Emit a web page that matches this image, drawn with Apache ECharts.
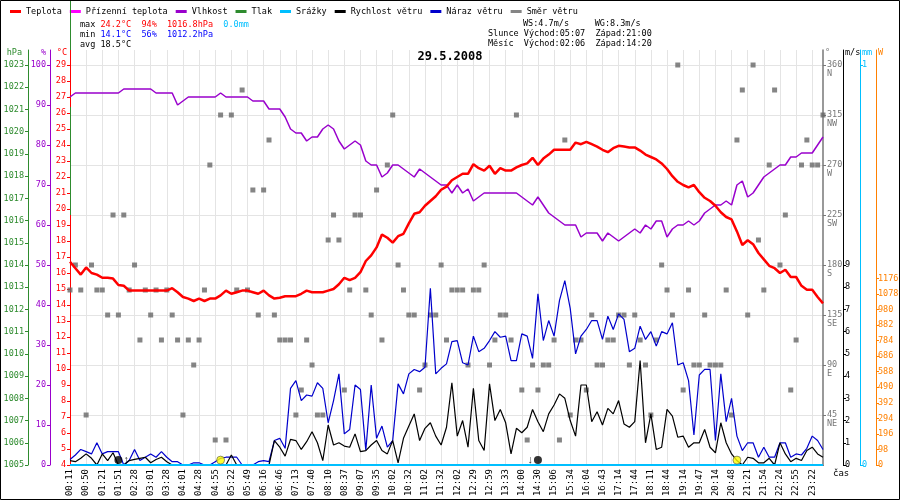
<!DOCTYPE html>
<html>
<head>
<meta charset="utf-8">
<script src="https://cdn.jsdelivr.net/npm/echarts@6/dist/echarts.min.js"></script>
<style>
html, body { margin: 0; padding: 0; background: #fff; }
#chart { width: 900px; height: 500px; }
</style>
</head>
<body>
<div id="chart"></div>
<script>
// popisky casove osy (kazdy treti vzorek)
const timeLabels = ['00:11','00:50','01:21','01:51','02:28','03:01','03:28','04:01','04:28','04:55',
    '05:22','05:49','06:16','06:46','07:13','07:40','08:10','08:37','09:07','09:35',
    '10:02','10:32','11:02','11:32','12:02','12:29','12:59','13:33','14:00','14:30',
    '15:06','15:34','16:04','16:43','17:14','17:44','18:11','18:44','19:14','19:47',
    '20:14','20:48','21:21','21:54','22:24','22:55','23:22']

// teplota °C
const temperature = [16.7,16.3,15.9,16.35,16.0,15.9,15.7,15.7,15.65,15.25,
    15.2,14.9,14.9,14.9,14.9,14.9,14.9,14.9,14.9,15.05,
    14.8,14.5,14.4,14.25,14.4,14.25,14.4,14.4,14.6,14.9,
    14.7,14.8,14.9,14.9,14.8,14.7,14.9,14.6,14.4,14.45,
    14.55,14.55,14.55,14.7,14.9,14.8,14.8,14.8,14.9,15.0,
    15.3,15.7,15.55,15.7,16.05,16.75,17.1,17.6,18.4,18.2,
    17.9,18.3,18.45,19.1,19.7,19.8,20.2,20.5,20.8,21.2,
    21.4,21.8,22.0,22.2,22.2,22.8,22.55,22.4,22.7,22.2,
    22.55,22.4,22.4,22.6,22.75,22.85,23.2,22.75,23.15,23.4,
    23.7,23.7,23.7,23.7,24.15,24.05,24.2,24.05,23.9,23.7,
    23.55,23.8,23.95,23.9,23.85,23.85,23.65,23.4,23.25,23.1,
    22.85,22.5,22.05,21.7,21.5,21.35,21.5,21.05,20.7,20.5,
    20.2,19.8,19.5,19.35,18.6,17.75,18.05,17.8,17.25,16.85,
    16.45,16.3,16.0,16.2,15.75,15.75,15.2,14.95,14.95,14.5,
    14.1]

// vlhkost %
const humidity = [92,93,93,93,93,93,93,93,93,93,
    94,94,94,94,94,94,93,93,93,93,
    90,91,92,92,92,92,92,92,93,92,
    92,92,92,92,91,91,91,89,89,89,
    87,84,83,83,81,82,82,84,85,84,
    81,79,80,81,80,76,75,75,72,73,
    75,75,74,73,72,74,73,72,71,70,
    70,68,70,68,69,66,67,68,68,68,
    68,68,68,68,67,66,65,67,65,63,
    62,61,60,60,60,57,58,58,58,56,
    58,57,56,57,58,59,58,60,59,61,
    61,57,59,60,60,61,60,61,63,64,
    65,65,66,65,70,71,67,68,70,72,
    73,74,75,75,77,77,78,78,78,80,
    82]

// rychlost vetru m/s
const windSpeed = [0.2,0.15,0.3,0.5,0.3,0,0.5,0.2,0.55,0,
    0,0.2,0.25,0.3,0.35,0.1,0.25,0.35,0.15,0,
    0,0,0,0,0,0,0,0,0,0,
    0.45,0,0,0,0,0,0,0,1.1,0.8,
    0.4,1.15,1.1,0.7,1.05,1.5,1.0,0.2,1.8,0.9,
    1.0,0.85,0.8,1.4,0.6,0.65,0.9,1.1,0.65,0.5,
    1.1,0.1,1.2,1.75,2.3,1.1,1.65,1.9,1.3,0.9,
    1.7,3.7,1.3,2.0,0.8,3.45,1.1,0.65,3.65,2.0,
    2.5,1.9,0.5,1.65,1.45,1.7,2.5,1.95,1.5,2.3,
    2.7,3.2,3.0,2.0,1.3,3.6,3.6,1.95,2.4,1.8,
    2.55,2.3,2.9,1.85,1.7,1.95,4.7,1.0,2.3,0.7,
    0.8,2.5,2.2,1.25,1.3,0.8,1.0,1.0,1.6,0.8,
    0.55,1.9,1.0,0.5,0.2,0,0.35,0.3,0.1,0.1,
    0.3,0,1.0,0.5,0.15,0.3,0.2,0.65,0.8,0.5,
    0.35]

// naraz vetru m/s
const windGust = [0.25,0.45,0.7,0.6,0.5,1.0,0.5,0.6,0.6,0.6,
    0,0.2,0.7,0.2,0.35,0.5,0.35,0.6,0.35,0.15,
    0.15,0,0,0.1,0.1,0,0,0.15,0.3,0.35,
    0.35,0.35,0,0,0,0.15,0.2,0.15,1.1,1.2,
    0.75,3.45,3.8,2.9,3.15,3.1,3.7,3.45,1.9,2.9,
    4.1,1.4,1.6,3.6,3.4,0.65,3.6,1.2,1.75,0.8,
    1.1,3.65,3.2,4.1,4.3,4.2,4.4,7.95,4.1,4.35,
    4.55,5.55,5.6,4.6,4.5,5.8,5.1,5.25,5.6,6.0,
    5.75,5.8,4.7,4.7,5.9,5.8,4.8,7.7,5.6,6.5,
    5.8,7.4,8.3,7.05,5.0,5.8,6.1,6.5,6.5,5.65,
    6.7,6.1,6.8,6.55,5.1,5.25,6.25,5.65,6.0,5.35,
    6.0,5.9,6.4,4.5,4.6,3.8,1.35,4.05,4.3,4.3,
    1.1,4.1,1.95,3.0,1.3,0.65,1.0,1.0,0.35,0.8,
    0.35,0.35,1.0,1.0,0.35,0.5,0.45,0.75,1.3,1.1,
    0.7]

// smer vetru °
const windDir = [157.5,180,157.5,45,180,157.5,157.5,135,225,135,
    225,157.5,180,112.5,157.5,135,157.5,112.5,157.5,135,
    112.5,45,112.5,90,112.5,157.5,270,22.5,315,22.5,
    315,157.5,337.5,157.5,247.5,135,247.5,292.5,135,112.5,
    112.5,112.5,45,67.5,112.5,90,45,45,202.5,225,
    202.5,67.5,157.5,225,225,157.5,135,247.5,112.5,270,
    315,180,157.5,135,135,67.5,90,135,135,180,
    112.5,157.5,157.5,157.5,90,157.5,157.5,180,90,112.5,
    135,135,112.5,315,67.5,22.5,90,67.5,90,90,
    112.5,22.5,292.5,45,112.5,112.5,67.5,135,90,90,
    112.5,112.5,135,135,90,135,112.5,90,45,112.5,
    180,157.5,135,360,67.5,157.5,90,90,135,90,
    90,90,157.5,45,292.5,337.5,135,360,202.5,157.5,
    270,337.5,180,225,67.5,112.5,270,292.5,270,270,
    315]

// srazky mm
const precip = [0,0,0,0,0,0,0,0,0,0, 0,0,0,0,0,0,0,0,0,0,
    0,0,0,0,0,0,0,0,0,0, 0,0,0,0,0,0,0,0,0,0,
    0,0,0,0,0,0,0,0,0,0, 0,0,0,0,0,0,0,0,0,0,
    0,0,0,0,0,0,0,0,0,0, 0,0,0,0,0,0,0,0,0,0,
    0,0,0,0,0,0,0,0,0,0, 0,0,0,0,0,0,0,0,0,0,
    0,0,0,0,0,0,0,0,0,0, 0,0,0,0,0,0,0,0,0,0,
    0,0,0,0,0,0,0,0,0,0, 0,0,0,0,0,0,0,0,0,0,
    0]

const feelsLike = []
const pressure = []

// slunce a mesic (index vzorku)
const astroIdx = [9, 28, 87, 124]
const astroKind = ['moon', 'sun', 'moon', 'sun']
const astroArrow = ['↑', '', '↓', '']

// hodnoty os
const tempTicks = [4,5,6,7,8,9,10,11,12,13,14,15,16,17,18,19,20,21,22,23,24,25,26,27,28,29]
const humTicks = [0,10,20,30,40,50,60,70,80,90,100]
const pressTicks = [1005,1006,1007,1008,1009,1010,1011,1012,1013,1014,1015,1016,1017,1018,1019,1020,1021,1022,1023]
const dirTicks = [45,90,135,180,225,270,315,360]
const dirNames = ['NE','E','SE','S','SW','W','NW','N']
const speedTicks = [0,1,2,3,4,5,6,7,8,9]
const rainTicks = [0,1]
const solarTicks = [0,98,196,294,392,490,588,686,784,882,980,1078,1176]

// souhrn dne
const tempMax = '24.2', humMax = '94', pressMax = '1016.8', rainSum = '0.0'
const tempMin = '14.1', humMin = '56', pressMin = '1012.2'
const tempAvg = '18.5'
const maxWS = '4.7', maxWG = '8.3'
const sunRise = '05:07', sunSet = '21:00', moonRise = '02:06', moonSet = '14:20'

const mono = "'DejaVu Sans Mono', monospace"
const categories = temperature.map((v, i) => i % 3 === 0 ? (timeLabels[i / 3] || '') : '')

function vAxis(o) {
    return {
        type: 'value',
        position: o.pos,
        offset: o.offset,
        min: o.min,
        max: o.max,
        interval: o.interval,
        name: o.name,
        nameLocation: 'end',
        nameGap: -3,
        nameMoveOverlap: false,
        nameTextStyle: {
            color: o.color, fontFamily: mono, fontSize: 8.5,
            align: o.pos === 'left' ? 'right' : 'left',
            verticalAlign: 'middle',
            padding: o.pos === 'left' ? [0, o.pad, 0, 0] : [0, 0, 0, o.pad]
        },
        axisLine: { show: true, onZero: false, lineStyle: { color: o.lineColor || o.color, width: o.lineWidth || 1 } },
        axisTick: { show: true, length: 3, customValues: o.ticks, lineStyle: { color: o.lineColor || o.color } },
        axisLabel: {
            customValues: o.ticks, color: o.color, fontFamily: mono, fontSize: 8.5,
            margin: o.margin || 4, formatter: o.formatter || (v => String(v)), lineHeight: o.lineHeight
        },
        splitLine: o.split ? { show: true, lineStyle: { color: '#e4e4e4', width: 1 } } : { show: false }
    }
}

const chart = echarts.init(document.getElementById('chart'))

const option = {
    backgroundColor: '#fff',
    animation: false,
    title: {
        text: '29.5.2008',
        left: 'center',
        top: 51,
        padding: 0,
        textStyle: { fontFamily: mono, fontSize: 12, fontWeight: 'bold', color: '#000' }
    },
    legend: {
        left: 10,
        top: 7,
        padding: 0,
        icon: 'rect',
        itemWidth: 11,
        itemHeight: 3,
        itemGap: 8,
        textStyle: { fontFamily: mono, fontSize: 8.5, color: '#000' },
        data: ['Teplota', 'Přízenní teplota', 'Vlhkost', 'Tlak', 'Srážky', 'Rychlost větru', 'Náraz větru', 'Směr větru']
    },
    grid: { left: 70, right: 77, top: 50, bottom: 35, containLabel: false, outerBoundsMode: 'none' },
    xAxis: {
        type: 'category',
        data: categories,
        boundaryGap: false,
        name: 'čas',
        nameLocation: 'end',
        nameGap: 10,
        nameMoveOverlap: false,
        nameTextStyle: { fontFamily: mono, fontSize: 9, color: '#000', align: 'left', verticalAlign: 'top', padding: [4, 0, 0, 0] },
        axisLine: { lineStyle: { color: '#000' } },
        axisTick: { show: false },
        axisLabel: { interval: 2, rotate: 90, fontFamily: mono, fontSize: 9, color: '#000', margin: 4 },
        splitLine: { show: true, interval: 2, lineStyle: { color: '#e4e4e4', width: 1 } }
    },
    yAxis: [
        vAxis({ pos: 'left', offset: 0, min: 4, max: 29.9375, interval: 1, name: '°C', color: '#ff0000', pad: 3, ticks: tempTicks }),
        vAxis({ pos: 'left', offset: 20, min: 0, max: 103.75, interval: 10, name: '%', color: '#9900cc', pad: 4, ticks: humTicks }),
        vAxis({ pos: 'left', offset: 42, min: 1005, max: 1023.675, interval: 1, name: 'hPa', color: '#2e8b2e', pad: 6, ticks: pressTicks }),
        vAxis({ pos: 'right', offset: 0, min: 0, max: 373.5, interval: 45, name: '°', color: '#777', lineWidth: 1.5, pad: 2, ticks: dirTicks, split: true,
            lineHeight: 9, formatter: v => '\n' + v + '\n' + dirNames[Math.round(v / 45) - 1] }),
        vAxis({ pos: 'right', offset: 20, min: 0, max: 18.675, interval: 1, name: 'm/s', color: '#000', pad: 2, margin: 2, ticks: speedTicks }),
        vAxis({ pos: 'right', offset: 37, min: 0, max: 1.0375, interval: 1, name: 'mm', color: '#00bfff', pad: 2, margin: 2, ticks: rainTicks }),
        vAxis({ pos: 'right', offset: 53, min: 0, max: 2614, interval: 98, name: 'W', color: '#ff8000', pad: 2, margin: 2, ticks: solarTicks })
    ],
    series: [
        {
            name: 'Směr větru', type: 'scatter', yAxisIndex: 3, data: windDir,
            symbol: 'rect', symbolSize: 5, itemStyle: { color: '#666' }, z: 2
        },
        {
            name: 'Vlhkost', type: 'line', yAxisIndex: 1, data: humidity,
            showSymbol: false, lineStyle: { color: '#9900cc', width: 1.5 }, itemStyle: { color: '#9900cc' }, z: 3
        },
        {
            name: 'Přízenní teplota', type: 'line', yAxisIndex: 0, data: feelsLike,
            showSymbol: false, lineStyle: { color: '#ff00ff', width: 1.5 }, itemStyle: { color: '#ff00ff' }
        },
        {
            name: 'Tlak', type: 'line', yAxisIndex: 2, data: pressure,
            showSymbol: false, lineStyle: { color: '#2e8b2e', width: 1.5 }, itemStyle: { color: '#2e8b2e' }
        },
        {
            name: 'Teplota', type: 'line', yAxisIndex: 0, data: temperature,
            showSymbol: false, lineStyle: { color: '#ff0000', width: 2.5 }, itemStyle: { color: '#ff0000' }, z: 4
        },
        {
            name: 'Náraz větru', type: 'line', yAxisIndex: 4, data: windGust,
            showSymbol: false, lineStyle: { color: '#0000cc', width: 1.2 }, itemStyle: { color: '#0000cc' }, z: 5
        },
        {
            name: 'Rychlost větru', type: 'line', yAxisIndex: 4, data: windSpeed,
            showSymbol: false, lineStyle: { color: '#000', width: 1.2 }, itemStyle: { color: '#000' }, z: 6
        },
        {
            name: 'Srážky', type: 'line', yAxisIndex: 5, data: precip,
            showSymbol: false, lineStyle: { color: '#00bfff', width: 2 }, itemStyle: { color: '#00bfff' }, z: 7
        },
        {
            name: 'astro', type: 'scatter', yAxisIndex: 4, z: 8, symbolSize: 8,
            data: astroIdx.map((idx, k) => ({
                value: [idx, 0.22],
                itemStyle: astroKind[k] === 'sun'
                    ? { color: '#ffff00', borderColor: '#555', borderWidth: 0.8 }
                    : { color: '#000' },
                label: {
                    show: astroArrow[k] !== '',
                    formatter: astroArrow[k],
                    position: astroArrow[k] === '↑' ? 'right' : 'left',
                    distance: 1,
                    fontSize: 11,
                    color: '#000'
                }
            }))
        }
    ],
    graphic: [
        { type: 'line', shape: { x1: 70.5, y1: 0, x2: 70.5, y2: 50 }, style: { stroke: '#2e8b2e', lineWidth: 1 }, z: 10 },
        { type: 'line', shape: { x1: 70.5, y1: 107, x2: 70.5, y2: 215 }, style: { stroke: '#2e8b2e', lineWidth: 1 }, z: 10 },
        {
            type: 'text', x: 80, y: 25,
            style: {
                text: '{k|max }{r|' + tempMax + '°C}  {r|' + humMax + '%}  {r|' + pressMax + 'hPa}  {c|' + rainSum + 'mm}',
                font: '8.5px ' + mono, verticalAlign: 'middle',
                rich: {
                    k: { fill: '#000', font: '8.5px ' + mono },
                    r: { fill: '#ff0000', font: '8.5px ' + mono },
                    c: { fill: '#00bfff', font: '8.5px ' + mono }
                }
            }
        },
        {
            type: 'text', x: 80, y: 35,
            style: {
                text: '{k|min }{b|' + tempMin + '°C}  {b|' + humMin + '%}  {b|' + pressMin + 'hPa}',
                font: '8.5px ' + mono, verticalAlign: 'middle',
                rich: {
                    k: { fill: '#000', font: '8.5px ' + mono },
                    b: { fill: '#0000ff', font: '8.5px ' + mono }
                }
            }
        },
        {
            type: 'text', x: 80, y: 45,
            style: { text: 'avg ' + tempAvg + '°C', font: '8.5px ' + mono, fill: '#000', verticalAlign: 'middle' }
        },
        {
            type: 'text', x: 523, y: 24,
            style: { text: 'WS:' + maxWS + 'm/s     WG:' + maxWG + 'm/s', font: '8.5px ' + mono, fill: '#000', verticalAlign: 'middle' }
        },
        {
            type: 'text', x: 488, y: 34,
            style: { text: 'Slunce Východ:' + sunRise + '  Západ:' + sunSet, font: '8.5px ' + mono, fill: '#000', verticalAlign: 'middle' }
        },
        {
            type: 'text', x: 488, y: 44,
            style: { text: 'Měsíc  Východ:' + moonRise + '  Západ:' + moonSet, font: '8.5px ' + mono, fill: '#000', verticalAlign: 'middle' }
        },
        {
            type: 'rect', shape: { x: 0.5, y: 0.5, width: 899, height: 499 },
            style: { fill: 'none', stroke: '#000', lineWidth: 1 }, z: 10
        }
    ]
}

chart.setOption(option)

window.addEventListener('resize', () => {
    chart.resize()
})
</script>
</body>
</html>
